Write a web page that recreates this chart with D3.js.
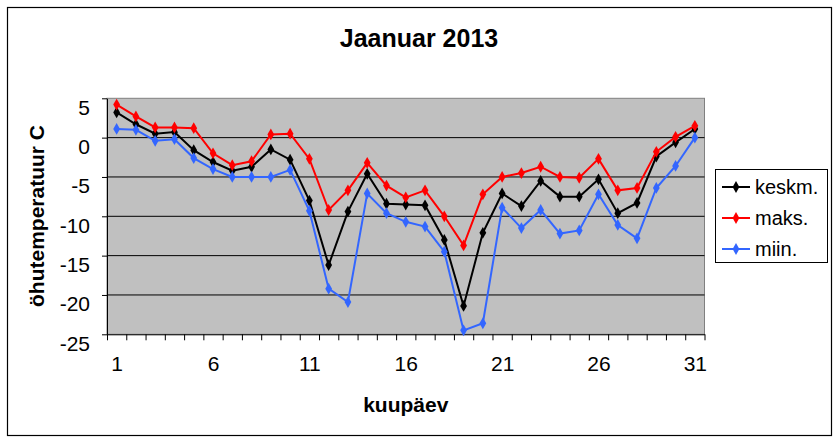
<!DOCTYPE html>
<html>
<head>
<meta charset="utf-8">
<script src="https://cdn.jsdelivr.net/npm/d3@7"></script>
<style>
  body { margin: 0; background: #fff; }
  svg text { font-family: Arial, "Liberation Sans", sans-serif; fill: #000; }
</style>
</head>
<body>
<div id="chart"></div>
<script>
// päevad 1..31
const days = d3.range(1, 32);
const keskm = [3.2, 1.7, 0.5, 0.7, -1.6, -3.1, -4.2, -3.7, -1.5, -2.8, -8.0, -16.2, -9.4, -4.6, -8.4, -8.5,
               -8.6, -13.0, -21.4, -12.1, -7.1, -8.7, -5.5, -7.5, -7.5, -5.3, -9.6, -8.3, -2.4, -0.6, 1.1];
const maks = [4.2, 2.7, 1.3, 1.3, 1.2, -2.0, -3.5, -3.0, 0.4, 0.5, -2.7, -9.2, -6.7, -3.2, -6.1, -7.6,
              -6.7, -10.0, -13.7, -7.2, -5.0, -4.5, -3.7, -5.0, -5.1, -2.7, -6.7, -6.4, -1.8, 0.1, 1.5];
const miin = [1.1, 1.0, -0.4, -0.2, -2.6, -4.0, -5.0, -5.0, -5.0, -4.1, -9.3, -19.2, -20.9, -7.1, -9.6, -10.7,
              -11.3, -14.5, -24.5, -23.6, -8.9, -11.5, -9.2, -12.2, -11.8, -7.2, -11.1, -12.8, -6.4, -3.6, 0.0];
const xLabels = [1, 6, 11, 16, 21, 26, 31];
const yTicks = [5, 0, -5, -10, -15, -20, -25];

const series = [
    { name: "keskm.", values: keskm, color: "#000000" },
    { name: "maks.", values: maks, color: "#ff0000" },
    { name: "miin.", values: miin, color: "#3366ff" }
];

const width = 838, height = 441;
const plotLeft = 107, plotRight = 704.5, plotTop = 98.3, plotBottom = 334.3;

const svg = d3.select("#chart").append("svg")
    .attr("width", width)
    .attr("height", height);

// outer frame
svg.append("rect")
    .attr("x", 7.5).attr("y", 7.5)
    .attr("width", 824).attr("height", 428)
    .attr("fill", "#fff").attr("stroke", "#000").attr("stroke-width", 1.2);

const x = d3.scaleLinear().domain([0.5, 31.5]).range([plotLeft, plotRight]);
const y = d3.scaleLinear().domain([-25, 5]).range([plotBottom, plotTop]);

// plot area
svg.append("rect")
    .attr("x", plotLeft).attr("y", plotTop)
    .attr("width", plotRight - plotLeft).attr("height", plotBottom - plotTop)
    .attr("fill", "#c0c0c0").attr("stroke", "#808080").attr("stroke-width", 1);

// gridlines
svg.append("g").selectAll("line")
    .data(yTicks.filter(d => d > -25 && d < 5))
    .enter().append("line")
    .attr("x1", plotLeft).attr("x2", plotRight)
    .attr("y1", d => y(d)).attr("y2", d => y(d))
    .attr("stroke", "#000").attr("stroke-width", 1);

// y axis (plain hyphen for minus, like the original)
const yAxis = svg.append("g")
    .attr("transform", `translate(${plotLeft},0)`)
    .call(d3.axisLeft(y).tickValues(yTicks).tickSize(5).tickSizeOuter(0).tickPadding(12)
        .tickFormat(d => String(d)));
yAxis.select(".domain").attr("stroke", "#000");
yAxis.selectAll("text").attr("font-size", 21).attr("dy", "0.95em").attr("transform", "translate(0,-4)");

// x axis tick marks on category boundaries
const xAxis = svg.append("g")
    .attr("transform", `translate(0,${plotBottom})`)
    .call(d3.axisBottom(x).tickValues(d3.range(0.5, 32, 1)).tickSize(6).tickSizeOuter(0).tickFormat(""));
xAxis.select(".domain").attr("stroke", "#000");

// x labels
const xLab = svg.append("g")
    .attr("transform", `translate(0,${plotBottom})`)
    .call(d3.axisBottom(x).tickValues(xLabels).tickSize(0).tickPadding(22).tickFormat(d => String(d)));
xLab.select(".domain").remove();
xLab.selectAll("text").attr("font-size", 21);

// lines and markers
const line = d3.line()
    .x((d, i) => x(days[i]))
    .y(d => y(d));
const diamond = d3.symbol().type(d3.symbolDiamond).size(40);

series.forEach(s => {
    const g = svg.append("g");
    g.append("path")
        .datum(s.values)
        .attr("d", line)
        .attr("fill", "none")
        .attr("stroke", s.color)
        .attr("stroke-width", 2);
    g.selectAll("path.m")
        .data(s.values)
        .enter().append("path")
        .attr("class", "m")
        .attr("d", diamond)
        .attr("transform", (d, i) => `translate(${x(days[i])},${y(d)})`)
        .attr("fill", s.color);
});

// titles
svg.append("text")
    .attr("x", 419).attr("y", 47)
    .attr("text-anchor", "middle")
    .attr("font-size", 25).attr("font-weight", "bold")
    .text("Jaanuar 2013");

svg.append("text")
    .attr("x", (plotLeft + plotRight) / 2).attr("y", 412)
    .attr("text-anchor", "middle")
    .attr("font-size", 21).attr("font-weight", "bold")
    .text("kuupäev");

svg.append("text")
    .attr("transform", "translate(44,216) rotate(-90)")
    .attr("text-anchor", "middle")
    .attr("font-size", 21).attr("font-weight", "bold")
    .text("öhutemperatuur C");

// legend
const legend = svg.append("g");
legend.append("rect")
    .attr("x", 715.5).attr("y", 169.5)
    .attr("width", 112).attr("height", 93)
    .attr("fill", "#fff").attr("stroke", "#000").attr("stroke-width", 1);

series.forEach((s, i) => {
    const ly = 187 + i * 31;
    legend.append("line")
        .attr("x1", 722).attr("x2", 750)
        .attr("y1", ly).attr("y2", ly)
        .attr("stroke", s.color).attr("stroke-width", 2);
    legend.append("path")
        .attr("d", diamond)
        .attr("transform", `translate(736,${ly})`)
        .attr("fill", s.color);
    legend.append("text")
        .attr("x", 755).attr("y", ly + 7)
        .attr("font-size", 20)
        .text(s.name);
});
</script>
</body>
</html>
